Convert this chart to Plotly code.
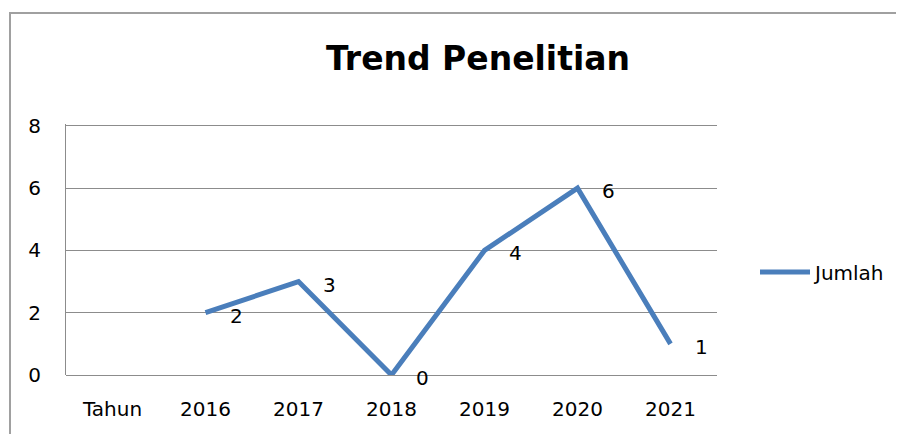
import plotly.graph_objects as go

categories = ["Tahun", "2016", "2017", "2018", "2019", "2020", "2021"]
jumlah = [None, 2, 3, 0, 4, 6, 1]
series_name = "Jumlah"
title_text = "Trend Penelitian"
y_ticks = [0, 2, 4, 6, 8]
y_max = 8.06

# page body adds an 8px offset; positions below are in figure pixels
OFF = 8
W, H = 904, 434
L, R, B = 66 - OFF, 717 - OFF, 375 - OFF
T = round(B - (B - (126 - OFF)) * y_max / 8)

def px_x(x):
    return (x - OFF - L) / (R - L)

def px_y(y):
    return (B - (y - OFF)) / (B - T)

FONT = "DejaVu Sans"
blue = "#4A7EBB"
grid = "#8C8C8C"

fig = go.Figure()
fig.add_trace(go.Scatter(
    x=categories, y=jumlah, mode="lines", name=series_name,
    line=dict(color=blue, width=5), connectgaps=False,
))

for i, v in enumerate(jumlah):
    if v is None:
        continue
    fig.add_annotation(x=i, y=v, text=str(v), showarrow=False,
                       xanchor="left", yanchor="middle", xshift=22, yshift=-3,
                       font=dict(family=FONT, size=20, color="#000"))

# outer frame
fig.add_shape(type="path", xref="paper", yref="paper",
              path=f"M {px_x(10)},{px_y(470)} L {px_x(10)},{px_y(13)} L {px_x(930)},{px_y(13)}",
              line=dict(color="#A0A0A0", width=2))

fig.update_layout(
    width=W, height=H,
    margin=dict(l=L, r=W - R, t=T, b=H - B),
    paper_bgcolor="white", plot_bgcolor="white",
    title=dict(text=f"<b>{title_text}</b>", x=(478 - OFF) / W, xanchor="center",
               y=1 - (58 - OFF) / H, yanchor="middle",
               font=dict(family=FONT, size=33, color="#000")),
    showlegend=True,
    legend=dict(x=px_x(755), y=px_y(272), xanchor="left", yanchor="middle",
                font=dict(family=FONT, size=20, color="#000"),
                bgcolor="rgba(0,0,0,0)", itemwidth=50),
    xaxis=dict(type="category", range=[-0.5, 6.5], showgrid=False, ticks="",
               showline=False, zeroline=False, ticklabelstandoff=20,
               tickfont=dict(family=FONT, size=20, color="#000")),
    yaxis=dict(range=[0, y_max], tickvals=y_ticks, showgrid=True, gridcolor=grid,
               gridwidth=1, zeroline=True, zerolinecolor=grid, zerolinewidth=1,
               showline=True, linecolor=grid, linewidth=1, ticks="",
               ticklabelstandoff=20,
               tickfont=dict(family=FONT, size=20, color="#000")),
)

fig.write_html("out.html")
